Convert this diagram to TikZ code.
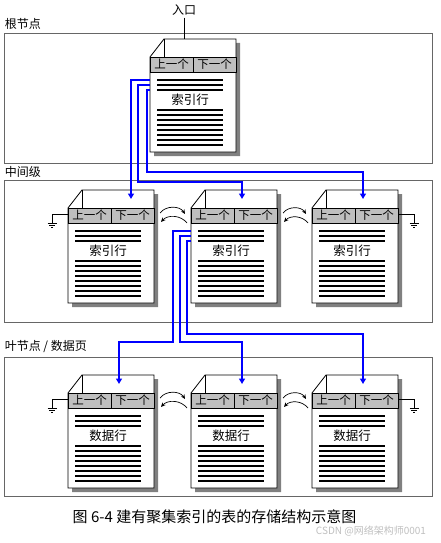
\documentclass[tikz,border=0pt]{standalone}
\usepackage{fontspec}
\setmainfont{Noto Sans CJK SC}
\usetikzlibrary{arrows.meta}

% one index / data page: name, left x, top y, text
\newcommand{\docpage}[4]{%
  \fill[black!50, shift={(4,4)}] (#2,#3+18) -- (#2+14,#3) -- (#2+86,#3) -- (#2+86,#3+113) -- (#2,#3+113) -- cycle;
  \draw[sheet] (#2,#3+18) -- (#2+14,#3) -- (#2+86,#3) -- (#2+86,#3+113) -- (#2,#3+113) -- cycle;
  \draw[sheetline] (#2+14,#3) -- (#2+14,#3+18);
  \node[sheetbox] (#1) at (#2+43,#3+56.5) {};
  \node[hdcell] (#1-prev) at (#2+21.5,#3+25.5) {上一个};
  \node[hdcell] (#1-next) at (#2+64.5,#3+25.5) {下一个};
  \foreach \k in {41,46,51} \draw[rowline] (#2+7,#3+\k) -- ++(66,0);
  \node[rowtext] (#1-text) at (#2+40,#3+61) {#4};
  \foreach \k in {0,...,7} \draw[rowline] (#2+7,#3+71+5*\k) -- ++(66,0);
  \coordinate (#1-l1) at (#2,#3+41);
  \coordinate (#1-l2) at (#2,#3+46);
  \coordinate (#1-l3) at (#2,#3+51);
  \coordinate (#1-in) at (#2+51,#3+9);
  \coordinate (#1-gl) at (#2,#3+24);
  \coordinate (#1-gr) at (#2+86,#3+24);
}

\begin{document}
\begin{tikzpicture}[x=1pt, y=-1pt]

\tikzset{tier/.style = {draw=black!60, line width=0.8pt, minimum width=428pt, inner sep=0pt}}
\tikzset{tierlabel/.style = {anchor=west, inner sep=1pt, font=\fontsize{12}{14}\selectfont}}
\tikzset{sheet/.style = {draw, fill=white, line width=0.8pt}}
\tikzset{sheetline/.style = {line width=0.8pt}}
\tikzset{sheetbox/.style = {minimum width=86pt, minimum height=113pt, inner sep=0pt}}
\tikzset{hdcell/.style = {draw, fill=black!25, line width=0.8pt, minimum width=43pt, minimum height=15pt, inner sep=0pt, outer sep=0pt, font=\fontsize{11.5}{12}\selectfont}}
\tikzset{rowline/.style = {line width=1.6pt}}
\tikzset{rowtext/.style = {inner sep=0pt, font=\fontsize{12.5}{14}\selectfont}}
\tikzset{blueline/.style = {draw=blue, line width=1.9pt, -{Triangle[length=5.5pt,width=6pt]}}}
\tikzset{pagearc/.style = {line width=0.7pt, -{Stealth[length=4.5pt,width=4pt]}}}
\tikzset{gndline/.style = {line width=0.7pt}}
\tikzset{gnd/.pic = {\draw[line width=0.7pt] (-4.5,0) -- (4.5,0) (-2.8,2.4) -- (2.8,2.4) (-1,4.8) -- (1,4.8);}}

\useasboundingbox (0,0) rectangle (440,543);

%panels
\node[tier, minimum height=130pt] (root) at (218,98) {};
\node[tier, minimum height=142pt] (mid) at (218,251) {};
\node[tier, minimum height=139pt] (leaf) at (218,426.5) {};
\node[tierlabel] at ([yshift=9pt]root.north west) {根节点};
\node[tierlabel] at ([yshift=8pt]mid.north west) {中间级};
\node[tierlabel] at ([yshift=10pt]leaf.north west) {叶节点 / 数据页};

%pages
\docpage{r}{150}{39}{索引行}
\docpage{m1}{68}{190}{索引行}
\docpage{m2}{191}{190}{索引行}
\docpage{m3}{312}{190}{索引行}
\docpage{d1}{68}{375}{数据行}
\docpage{d2}{191}{375}{数据行}
\docpage{d3}{312}{375}{数据行}
\coordinate (m1-in) at (131,199);

%entry
\node[font=\fontsize{12}{14}\selectfont, inner sep=2pt] (entry) at (184,10) {入口};
\draw[line width=0.8pt] (entry.south) -- (entry.south |- r.north);

%links
\draw[blueline] (r-l1) -| (m1-in);
\draw[blueline] (r-l2) -- ++(-12,0) |- ([yshift=17pt]m2-in) -- (m2-in);
\draw[blueline] (r-l3) -- ++(-3,0) |- ([yshift=27pt]m3-in) -- (m3-in);
\draw[blueline] (m2-l1) -- ++(-18,0) |- ([yshift=42pt]d1-in) -- (d1-in);
\draw[blueline] (m2-l2) -- ++(-11,0) |- ([yshift=42pt]d2-in) -- (d2-in);
\draw[blueline] (m2-l3) -- ++(-4,0) |- ([yshift=50pt]d3-in) -- (d3-in);

%neighbours
\foreach \a/\b in {m1/m2, m2/m3, d1/d2, d2/d3} {
  \draw[pagearc] ([shift={(6,-2.5)}]\a-next.east) to[bend left=55] ([shift={(-6,-1.5)}]\b-prev.west);
  \draw[pagearc] ([shift={(-4,7.5)}]\b-prev.west) to[bend right=50] ([shift={(7,6.5)}]\a-next.east);
}

%ends
\draw[gndline] (m1-gl) -- ++(-16,0) -- ++(0,9) pic {gnd};
\draw[gndline] (m3-gr) -- ++(16,0) -- ++(0,9) pic {gnd};
\draw[gndline] (d1-gl) -- ++(-16,0) -- ++(0,9) pic {gnd};
\draw[gndline] (d3-gr) -- ++(16,0) -- ++(0,9) pic {gnd};

%caption
\node[font=\fontsize{15}{17}\selectfont] (cap) at (214.5,517) {图 6-4 建有聚集索引的表的存储结构示意图};
\node[font=\fontsize{10}{12}\selectfont, text=black!25] (mark) at (371,531) {CSDN @网络架构师0001};

\end{tikzpicture}
\end{document}
